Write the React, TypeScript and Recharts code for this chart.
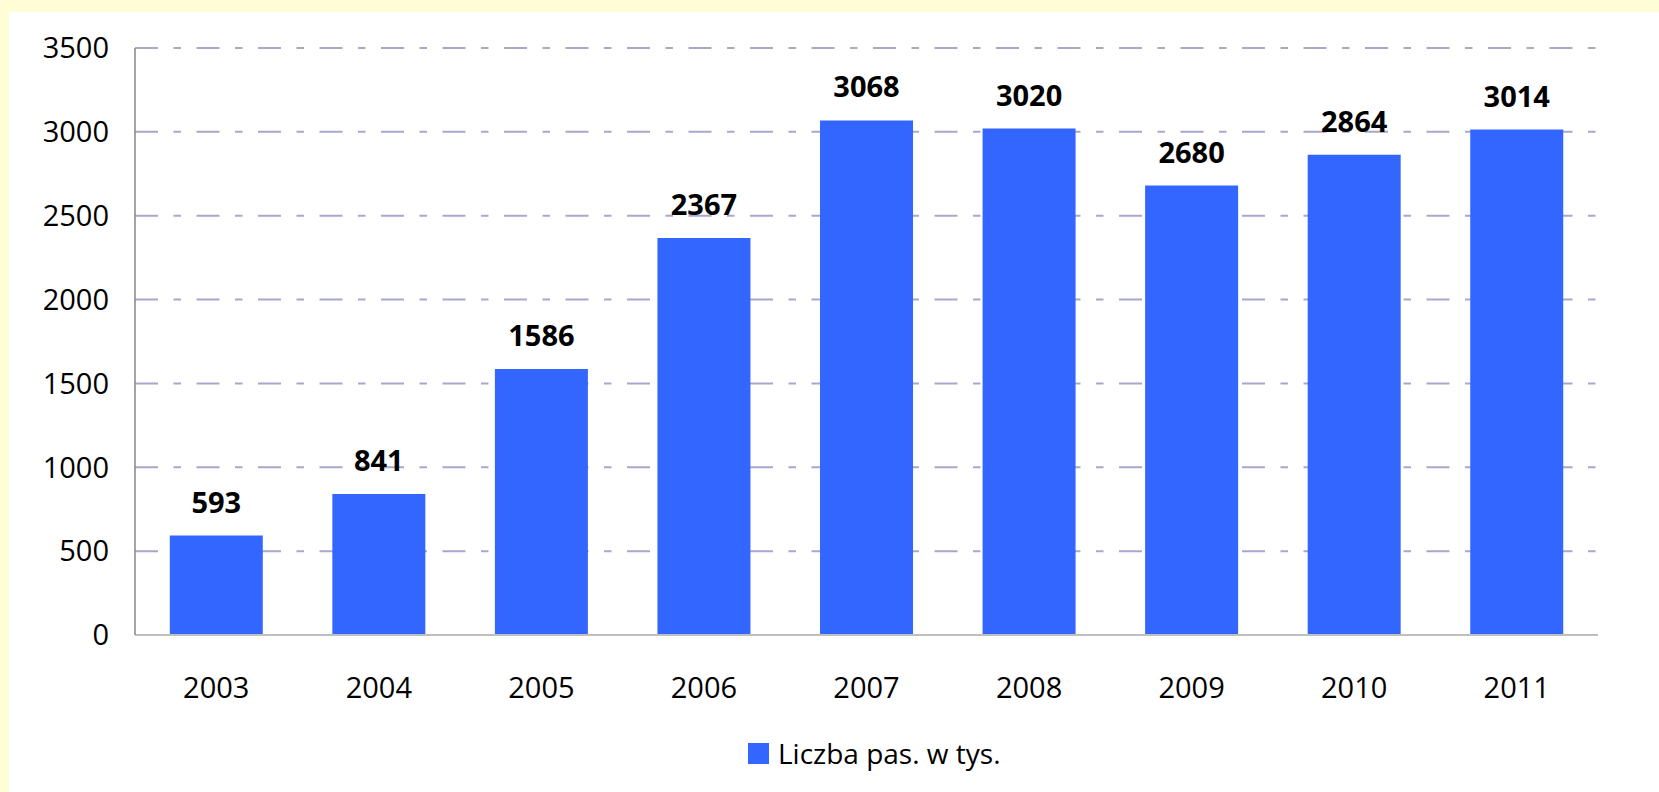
import React from "react";
import { BarChart, Bar, XAxis, YAxis, CartesianGrid, Legend, LabelList } from "recharts";

const years = ["2003", "2004", "2005", "2006", "2007", "2008", "2009", "2010", "2011"];
const passengers = [593, 841, 1586, 2367, 3068, 3020, 2680, 2864, 3014];
const yTicks = [0, 500, 1000, 1500, 2000, 2500, 3000, 3500];
const gridValues = [500, 1000, 1500, 2000, 2500, 3000, 3500];
const seriesName = "Liczba pas. w tys.";

const data = years.map((y, i) => ({ year: y, value: passengers[i] }));

const FONT = "'Open Sans', sans-serif";
const BAR_COLOR = "#3366FF";

const LegendContent = () => (
  <div
    style={{
      display: "flex",
      alignItems: "center",
      height: 30,
      paddingLeft: 748,
      fontFamily: FONT,
      fontSize: 28,
      color: "#000",
    }}
  >
    <span style={{ width: 21, height: 21, background: BAR_COLOR, display: "inline-block", marginRight: 9 }} />
    <span style={{ lineHeight: "30px" }}>{seriesName}</span>
  </div>
);

export default function App() {
  return (
    <div style={{ position: "absolute", left: 0, top: 0, width: 1659, height: 792, background: "#FFFDD6", overflow: "hidden" }}>
      <div style={{ position: "absolute", left: 9, top: 12, right: 0, bottom: 0, background: "#FFFFFF" }} />
      <div style={{ position: "absolute", left: 0, top: 0 }}>
        <BarChart
          width={1659}
          height={792}
          data={data}
          margin={{ top: 48, right: 61, left: 0, bottom: 24 }}
          barCategoryGap="21.4%"
        >
          <CartesianGrid
            vertical={false}
            horizontalValues={gridValues}
            stroke="#A9A7CC"
            strokeWidth={2}
            strokeDasharray="23 15.5 7.5 15.5"
          />
          <XAxis
            dataKey="year"
            height={103}
            tickLine={false}
            tickSize={0}
            tickMargin={42}
            axisLine={{ stroke: "#BFBFBF", strokeWidth: 2 }}
            tick={{ fontFamily: FONT, fontSize: 29, fill: "#000" }}
            interval={0}
          />
          <YAxis
            width={135}
            domain={[0, 3500]}
            ticks={yTicks}
            tickLine={false}
            tickSize={0}
            tickMargin={26}
            axisLine={{ stroke: "#878787", strokeWidth: 1.5 }}
            tick={{ fontFamily: FONT, fontSize: 29, fill: "#000" }}
          />
          <Legend
            verticalAlign="bottom"
            wrapperStyle={{ left: 0, width: 1659 }}
            content={() => <LegendContent />}
          />
          <Bar dataKey="value" name={seriesName} fill={BAR_COLOR} isAnimationActive={false}>
            <LabelList
              dataKey="value"
              position="top"
              offset={23}
              style={{ fontFamily: FONT, fontSize: 29, fontWeight: 700, fill: "#000" }}
            />
          </Bar>
        </BarChart>
      </div>
    </div>
  );
}
